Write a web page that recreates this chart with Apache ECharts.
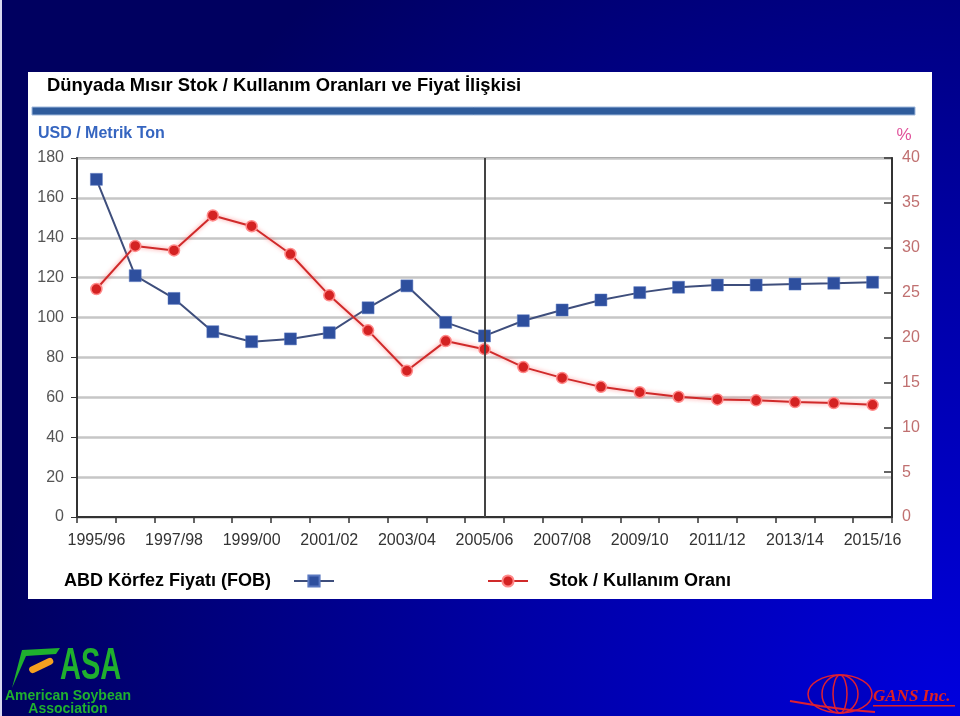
<!DOCTYPE html>
<html>
<head>
<meta charset="utf-8">
<script src="https://cdn.jsdelivr.net/npm/echarts@6/dist/echarts.min.js"></script>
<style>html,body{margin:0;padding:0;background:#000066;}#c{width:960px;height:716px;}</style>
</head>
<body>
<div id="c"></div>
<script>
var categories = ['1995/96','1996/97','1997/98','1998/99','1999/00','2000/01','2001/02','2002/03','2003/04','2004/05','2005/06','2006/07','2007/08','2008/09','2009/10','2010/11','2011/12','2012/13','2013/14','2014/15','2015/16'];
var priceFOB = [169.3,121,109.6,92.9,87.9,89.3,92.4,104.9,115.9,97.6,90.8,98.4,103.8,108.8,112.5,115.2,116.3,116.3,116.8,117.2,117.7];
var stockUseRatio = [25.4,30.2,29.7,33.6,32.4,29.3,24.7,20.8,16.3,19.6,18.7,16.7,15.5,14.5,13.9,13.4,13.1,13.0,12.8,12.7,12.5];
var leftTicks = {min:0, max:180, interval:20};
var rightTicks = {min:0, max:40, interval:5};
var markerCategory = '2005/06';

var chart = echarts.init(document.getElementById('c'), null, {renderer:'canvas'});
var font = 'Arial, "Liberation Sans", sans-serif';
var option = {
  animation: false,
  graphic: [
    {type:'rect', z:-10, silent:true, shape:{x:0,y:0,width:960,height:716},
      style:{fill: new echarts.graphic.RadialGradient(1,1,1.35,[{offset:0,color:'#0000de'},{offset:0.45,color:'#0000a8'},{offset:1,color:'#000060'}])}},
    {type:'rect', z:-9, silent:true, shape:{x:0,y:0,width:2,height:716}, style:{fill:'#d8d8f0'}},
    {type:'rect', z:-8, silent:true, shape:{x:28,y:72,width:904,height:527}, style:{fill:'#ffffff'}},
    {type:'rect', z:-7, silent:true, shape:{x:32,y:107,width:883,height:8}, style:{fill:'#2f5c9c', stroke:'#9fb8dc', lineWidth:1}},
    // ASA logo
    {type:'polygon', silent:true, shape:{points:[[12,688],[22,650],[60,648],[56,654],[26,656]]}, style:{fill:'#1fb02e'}},
    {type:'rect', silent:true, shape:{x:28,y:662,width:26,height:7,r:4}, rotation:0.45, originX:41, originY:665, style:{fill:'#f5a020'}},
    {type:'text', silent:true, x:60, y:645, scaleX:0.66, style:{x:0,y:0,text:'ASA',font:'bold 44px Arial, sans-serif',fill:'#1fb02e'}},
    {type:'text', silent:true, style:{x:68,y:689,text:'American Soybean',font:'bold 14px Arial, sans-serif',fill:'#1fb02e',align:'center'}},
    {type:'text', silent:true, style:{x:68,y:702,text:'Association',font:'bold 14px Arial, sans-serif',fill:'#1fb02e',align:'center'}},
    // GANS logo
    {type:'ellipse', silent:true, shape:{cx:840,cy:694,rx:32,ry:19}, style:{fill:'rgba(0,0,180,0.5)',stroke:'#e02030',lineWidth:1.5}},
    {type:'ellipse', silent:true, shape:{cx:840,cy:694,rx:18,ry:19}, style:{fill:'none',stroke:'#e02030',lineWidth:1.5}},
    {type:'ellipse', silent:true, shape:{cx:840,cy:694,rx:7,ry:19}, style:{fill:'none',stroke:'#e02030',lineWidth:1.5}},
    {type:'polyline', silent:true, shape:{points:[[790,701],[820,706],[850,710],[875,712]]}, style:{stroke:'#e02030',lineWidth:2,fill:'none'}},
    {type:'text', silent:true, style:{x:873,y:688,text:'GANS Inc.',font:'italic bold 17px "Liberation Serif", serif',fill:'#e02020'}},
    {type:'rect', silent:true, shape:{x:873,y:705,width:82,height:1.5}, style:{fill:'#e02020'}}
  ],
  title: [
    {text:'Dünyada Mısır Stok / Kullanım Oranları ve Fiyat İlişkisi', left:47, top:77, padding:0,
      textStyle:{fontFamily:font, fontWeight:'bold', fontSize:18.4, color:'#000'}},
    {text:'USD / Metrik Ton', left:38, top:126, padding:0,
      textStyle:{fontFamily:font, fontWeight:'bold', fontSize:16, color:'#3565c0'}}
  ],
  legend: [
    {data:['ABD Körfez Fiyatı (FOB)'], left:64, top:572, align:'right', itemWidth:40, itemHeight:14, padding:0,
      textStyle:{fontFamily:font, fontWeight:'bold', fontSize:18, color:'#000', padding:[0,18,0,0]}},
    {data:['Stok / Kullanım Oranı'], left:487, top:572, align:'left', itemWidth:40, itemHeight:14, padding:0,
      textStyle:{fontFamily:font, fontWeight:'bold', fontSize:18, color:'#000', padding:[0,0,0,16]}}
  ],
  grid: {left:77, right:68, top:158, bottom:199, show:true, borderColor:'#333', borderWidth:1.5, backgroundColor:'transparent'},
  xAxis: {
    type:'category', data:categories, boundaryGap:true,
    axisLine:{lineStyle:{color:'#333', width:2}},
    axisTick:{show:true, interval:0, length:6, lineStyle:{color:'#333', width:1.5}},
    axisLabel:{interval:1, margin:16, fontFamily:font, fontSize:16, color:'#333'}
  },
  yAxis: [
    {type:'value', min:leftTicks.min, max:leftTicks.max, interval:leftTicks.interval, position:'left',
      axisLine:{show:true, lineStyle:{color:'#333', width:2}},
      axisTick:{show:true, length:6, lineStyle:{color:'#333'}},
      axisLabel:{margin:13, fontFamily:font, fontSize:16, color:'#555'},
      splitLine:{show:true, lineStyle:{color:'#c6c6c6', width:2.5}}},
    {type:'value', min:rightTicks.min, max:rightTicks.max, interval:rightTicks.interval, position:'right',
      name:'%', nameLocation:'end', nameGap:14,
      nameTextStyle:{fontFamily:font, fontSize:17, color:'#e0509a', padding:[0,0,0,24]},
      axisLine:{show:true, lineStyle:{color:'#333', width:2}},
      axisTick:{show:true, inside:true, length:8, lineStyle:{color:'#333', width:1.5}},
      axisLabel:{margin:10, fontFamily:font, fontSize:16, color:'#c07070'},
      splitLine:{show:false}}
  ],
  series: [
    {name:'ABD Körfez Fiyatı (FOB)', type:'line', yAxisIndex:0, data:priceFOB,
      symbol:'rect', symbolSize:12,
      itemStyle:{color:'#2e4f9e', borderColor:'#5a78c0', borderWidth:0.5},
      lineStyle:{color:'#3e4e7c', width:2},
      markLine:{silent:true, symbol:['none','none'], label:{show:false},
        lineStyle:{color:'#444', width:2, type:'solid'},
        data:[{xAxis:markerCategory}]},
      z:3},
    {name:'Stok / Kullanım Oranı', type:'line', yAxisIndex:1, data:stockUseRatio,
      symbol:'circle', symbolSize:11,
      itemStyle:{color:'#d42222', borderColor:'#ff8a8a', borderWidth:1.5},
      lineStyle:{color:'#d02a2a', width:2, shadowColor:'rgba(255,110,110,0.8)', shadowBlur:4},
      z:4}
  ]
};
chart.setOption(option);
</script>
</body>
</html>
